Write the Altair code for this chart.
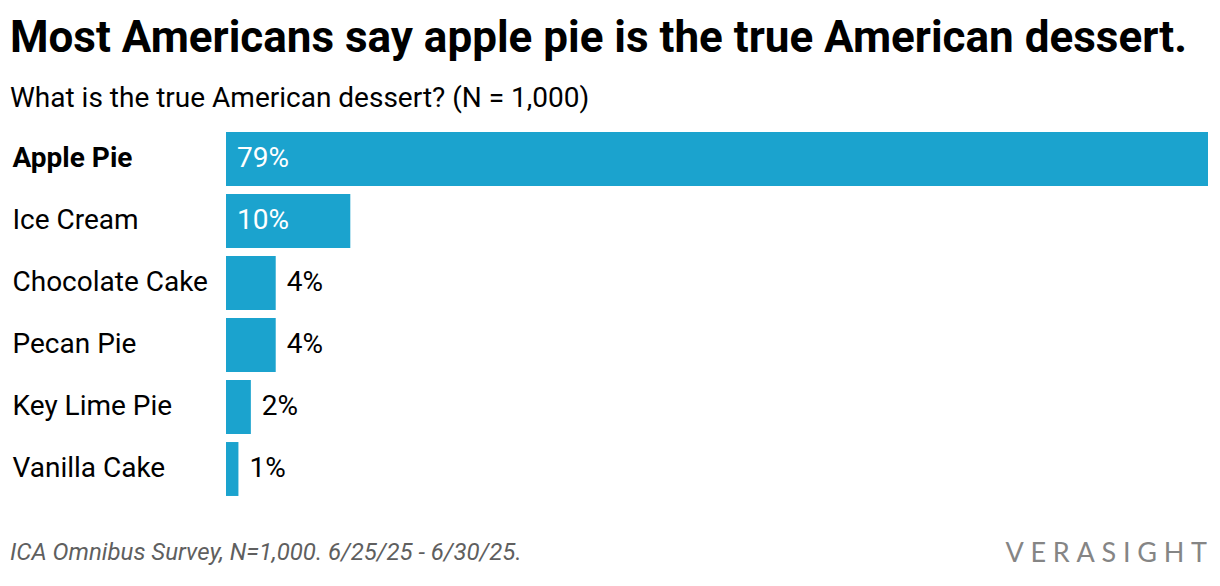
import altair as alt
import pandas as pd

categories = ["Apple Pie", "Ice Cream", "Chocolate Cake", "Pecan Pie", "Key Lime Pie", "Vanilla Cake"]
values = [79, 10, 4, 4, 2, 1]

title_text = "Most Americans say apple pie is the true American dessert."
subtitle_text = "What is the true American dessert? (N = 1,000)"
source_text = "ICA Omnibus Survey, N=1,000. 6/25/25 - 6/30/25."
brand_text = "VERASIGHT"

df = pd.DataFrame({"cat": categories, "value": values})

FONT = "Roboto"
W, H = 982, 372

y_enc = alt.Y(
    "cat:N",
    sort=categories,
    scale=alt.Scale(paddingInner=0.13, paddingOuter=0.065),
    axis=alt.Axis(
        title=None,
        domain=False,
        ticks=False,
        labelAlign="left",
        labelPadding=214,
        labelFont=FONT,
        labelFontSize=28,
        labelColor="#000000",
        labelFontWeight=alt.expr("datum.value == 'Apple Pie' ? 'bold' : 'normal'"),
        labelLimit=300,
    ),
)

x_enc = alt.X("value:Q", scale=alt.Scale(domain=[0, 79], nice=False), axis=None)

base = alt.Chart(df)

bars = base.mark_bar(color="#1BA3CE").encode(x=x_enc, y=y_enc)

labels = base.transform_calculate(
    pos="datum.value >= 10 ? 0 : datum.value",
    label="datum.value + '%'",
    inside="datum.value >= 10",
).mark_text(align="left", baseline="middle", dx=11, font=FONT, fontSize=28).encode(
    x=alt.X("pos:Q", scale=alt.Scale(domain=[0, 79], nice=False), axis=None),
    y=alt.Y("cat:N", sort=categories),
    text="label:N",
    color=alt.condition("datum.inside", alt.value("#ffffff"), alt.value("#000000")),
)

foot_df = pd.DataFrame({"t": [source_text]})
footer = alt.Chart(foot_df).mark_text(
    align="left", baseline="alphabetic", font=FONT, fontSize=24, fontStyle="italic", color="#5f5f5f"
).encode(x=alt.value(-216), y=alt.value(432), text="t:N")

brand_df = pd.DataFrame({"t": ["\u2005".join(brand_text)]})
brand = alt.Chart(brand_df).mark_text(
    align="right", baseline="alphabetic", font="Lato", fontSize=27, fontWeight="normal",
    color="#858585"
).encode(x=alt.value(W - 1), y=alt.value(434), text="t:N")

chart = alt.layer(bars, labels, footer, brand).properties(
    width=W,
    height=H,
    background="#ffffff",
    padding={"left": 2, "top": 9, "right": 2, "bottom": 8},
    title=alt.TitleParams(
        text=title_text,
        subtitle=subtitle_text,
        anchor="start",
        frame="group",
        dx=-216,
        font=FONT,
        fontSize=44,
        fontWeight="bold",
        color="#000000",
        subtitleFont=FONT,
        subtitleFontSize=28,
        subtitleColor="#000000",
        subtitlePadding=24,
        offset=15,
    ),
).configure_view(strokeWidth=0, stroke="transparent")

chart.save("out.html", embed_options={"renderer": "svg", "actions": False})
